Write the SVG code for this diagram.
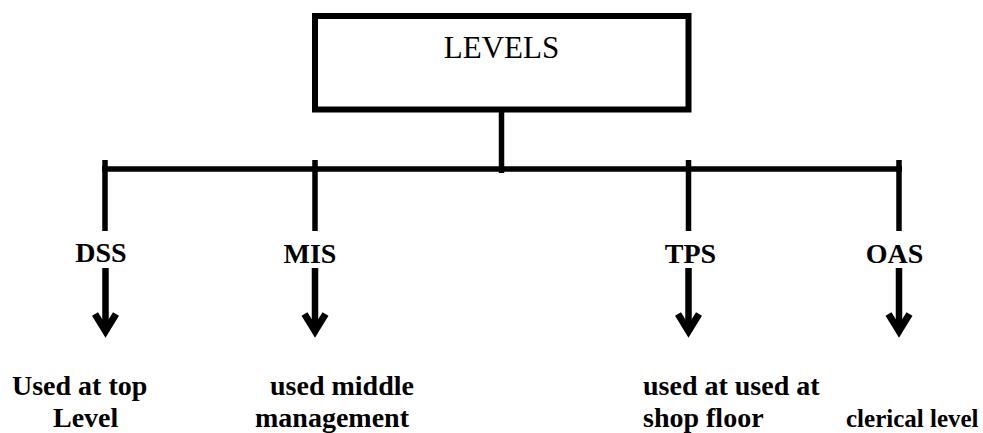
<svg xmlns="http://www.w3.org/2000/svg" width="983" height="433" viewBox="0 0 983 433">
<style>
.lbl{font-family:"Liberation Serif","Times New Roman",serif;font-weight:bold;font-size:28px;fill:#000}
.title{font-family:"Liberation Serif","Times New Roman",serif;font-size:31px;fill:#000}
.ln{stroke:#000;stroke-width:5.5;fill:none}
.shaft{stroke:#000;stroke-width:6.5;fill:none}
.head{stroke:#000;stroke-width:7;fill:none;stroke-linejoin:miter;stroke-miterlimit:10}
</style>
<rect width="983" height="433" fill="#fff"/>
<g id="levels">
<rect x="315" y="16" width="373.5" height="93.5" fill="#fff" stroke="#000" stroke-width="6"/>
<text class="title" x="501.5" y="58" text-anchor="middle">LEVELS</text>
</g>
<g id="connectors">
<line class="ln" x1="501.5" y1="109" x2="501.5" y2="173"/>
<line class="ln" x1="102" y1="169" x2="902" y2="169"/>
<line class="ln" x1="105" y1="160" x2="105" y2="231"/>
<line class="ln" x1="315" y1="160" x2="315" y2="231"/>
<line class="ln" x1="688.5" y1="160" x2="688.5" y2="231"/>
<line class="ln" x1="899" y1="160" x2="899" y2="231"/>
<line class="shaft" x1="105.5" y1="268" x2="105.5" y2="331"/>
<polyline class="head" points="95,314 105.5,331 116,314"/>
<line class="shaft" x1="315" y1="268" x2="315" y2="331"/>
<polyline class="head" points="304.5,314 315,331 325.5,314"/>
<line class="shaft" x1="688.5" y1="268" x2="688.5" y2="331"/>
<polyline class="head" points="678,314 688.5,331 699,314"/>
<line class="shaft" x1="899" y1="268" x2="899" y2="331"/>
<polyline class="head" points="888.5,314 899,331 909.5,314"/>
</g>
<g id="dss">
<text class="lbl" x="101" y="262" text-anchor="middle">DSS</text>
</g>
<g id="mis">
<text class="lbl" x="310" y="263" text-anchor="middle">MIS</text>
</g>
<g id="tps">
<text class="lbl" x="690.5" y="263" text-anchor="middle">TPS</text>
</g>
<g id="oas">
<text class="lbl" x="894.5" y="263" text-anchor="middle">OAS</text>
</g>
<g id="dss-use">
<text class="lbl" x="12" y="395">Used at top</text>
<text class="lbl" x="53" y="427">Level</text>
</g>
<g id="mis-use">
<text class="lbl" x="270" y="395">used middle</text>
<text class="lbl" x="255" y="427">management</text>
</g>
<g id="tps-use">
<text class="lbl" x="643" y="395">used at used at</text>
<text class="lbl" x="643" y="427">shop floor</text>
</g>
<g id="oas-use">
<text class="lbl" x="846" y="427" style="font-size:25px">clerical level</text>
</g>
</svg>
